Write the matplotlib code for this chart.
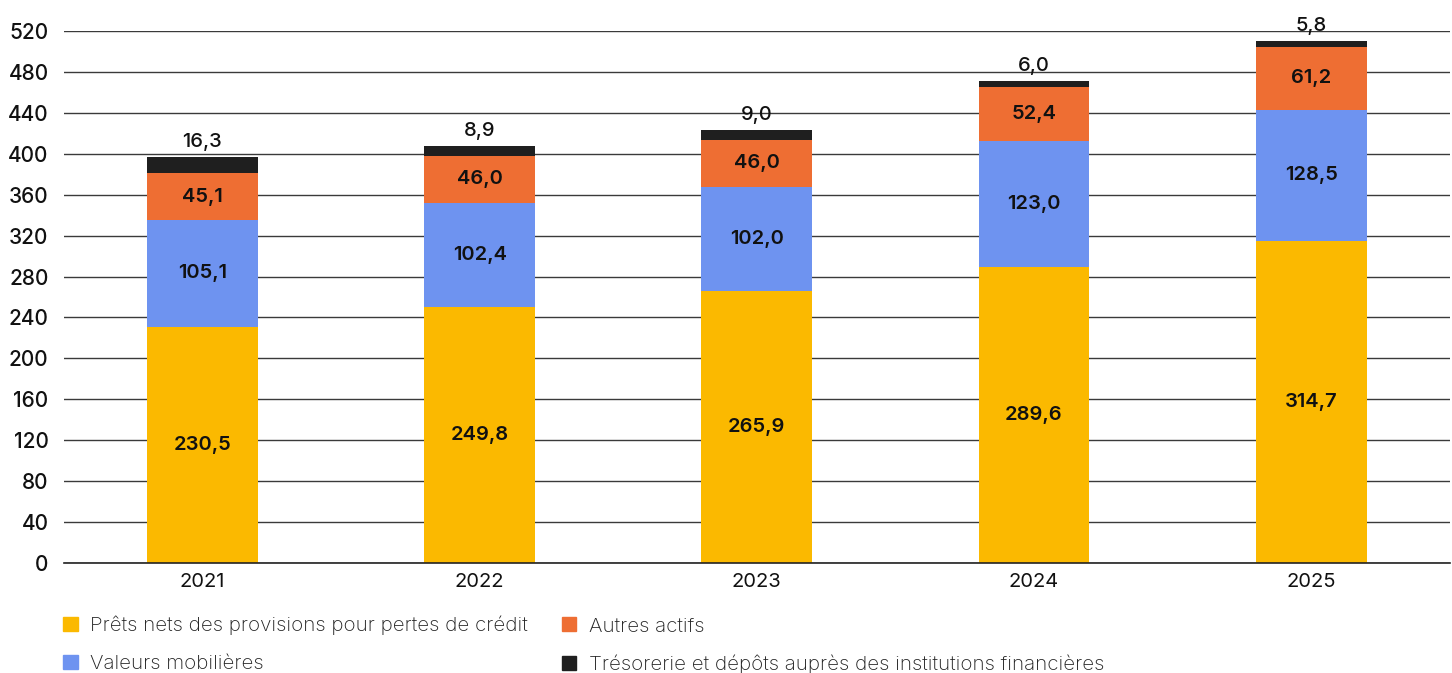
import numpy as np
import matplotlib.pyplot as plt
from matplotlib.patches import Patch

plt.rcParams['font.family'] = ['Inter', 'DejaVu Sans']

years = ['2021', '2022', '2023', '2024', '2025']
prets = [230.5, 249.8, 265.9, 289.6, 314.7]
valeurs = [105.1, 102.4, 102.0, 123.0, 128.5]
autres = [45.1, 46.0, 46.0, 52.4, 61.2]
tresorerie = [16.3, 8.9, 9.0, 6.0, 5.8]

series = [
    ('Prêts nets des provisions pour pertes de crédit', prets, '#FBB900'),
    ('Valeurs mobilières', valeurs, '#6E93F0'),
    ('Autres actifs', autres, '#EE6E33'),
    ('Trésorerie et dépôts auprès des institutions financières', tresorerie, '#1F1F1F'),
]

def fmt(v):
    return f'{v:.1f}'.replace('.', ',')

fig = plt.figure(figsize=(14.52, 6.73), dpi=100)
ax = fig.add_axes([0.044, 0.1634, 0.9545, 0.7906])

x = np.arange(len(years))
bottom = np.zeros(len(years))
for i, (name, vals, color) in enumerate(series):
    vals = np.array(vals)
    ax.bar(x, vals, 0.4, bottom=bottom, color=color, zorder=3)
    for xi, b, v in zip(x, bottom, vals):
        if i < 3:
            ax.text(xi, b + v / 2, fmt(v), ha='center', va='center',
                    fontsize=14.5, fontweight='semibold', color='#111111', zorder=4)
        else:
            ax.text(xi, b + v + 6, fmt(v), ha='center', va='bottom',
                    fontsize=14.5, fontweight='medium', color='#111111',
                    zorder=4, clip_on=False)
    bottom += vals

ax.set_xlim(-0.5, 4.5)
ax.set_ylim(0, 520)
ax.set_yticks(np.arange(0, 521, 40))
ax.set_xticks(x)
ax.set_xticklabels(years)
ax.yaxis.grid(True, color='#3a3a3a', linewidth=1.0, zorder=0)
for s in ['top', 'right', 'left']:
    ax.spines[s].set_visible(False)
ax.spines['bottom'].set_color('#222222')
ax.spines['bottom'].set_linewidth(1.2)
ax.spines['bottom'].set_zorder(5)
ax.tick_params(axis='both', length=0, colors='#111111')
ax.tick_params(axis='y', pad=11, labelsize=15)
ax.tick_params(axis='x', pad=7, labelsize=14.5)
for t in ax.get_yticklabels():
    t.set_fontweight('medium')

handles = [Patch(color=c, label=n) for n, _, c in series]
leg = fig.legend(handles=handles, ncol=2, loc='upper left',
                 bbox_to_anchor=(0.038, 0.097), frameon=False, fontsize=14.8,
                 handlelength=0.7, handleheight=0.7, handletextpad=0.6,
                 columnspacing=1.65, labelspacing=0.95, borderaxespad=0)
for t in leg.get_texts():
    t.set_fontweight('light')
    t.set_color('#222222')

fig.savefig('out.png', dpi=100)
